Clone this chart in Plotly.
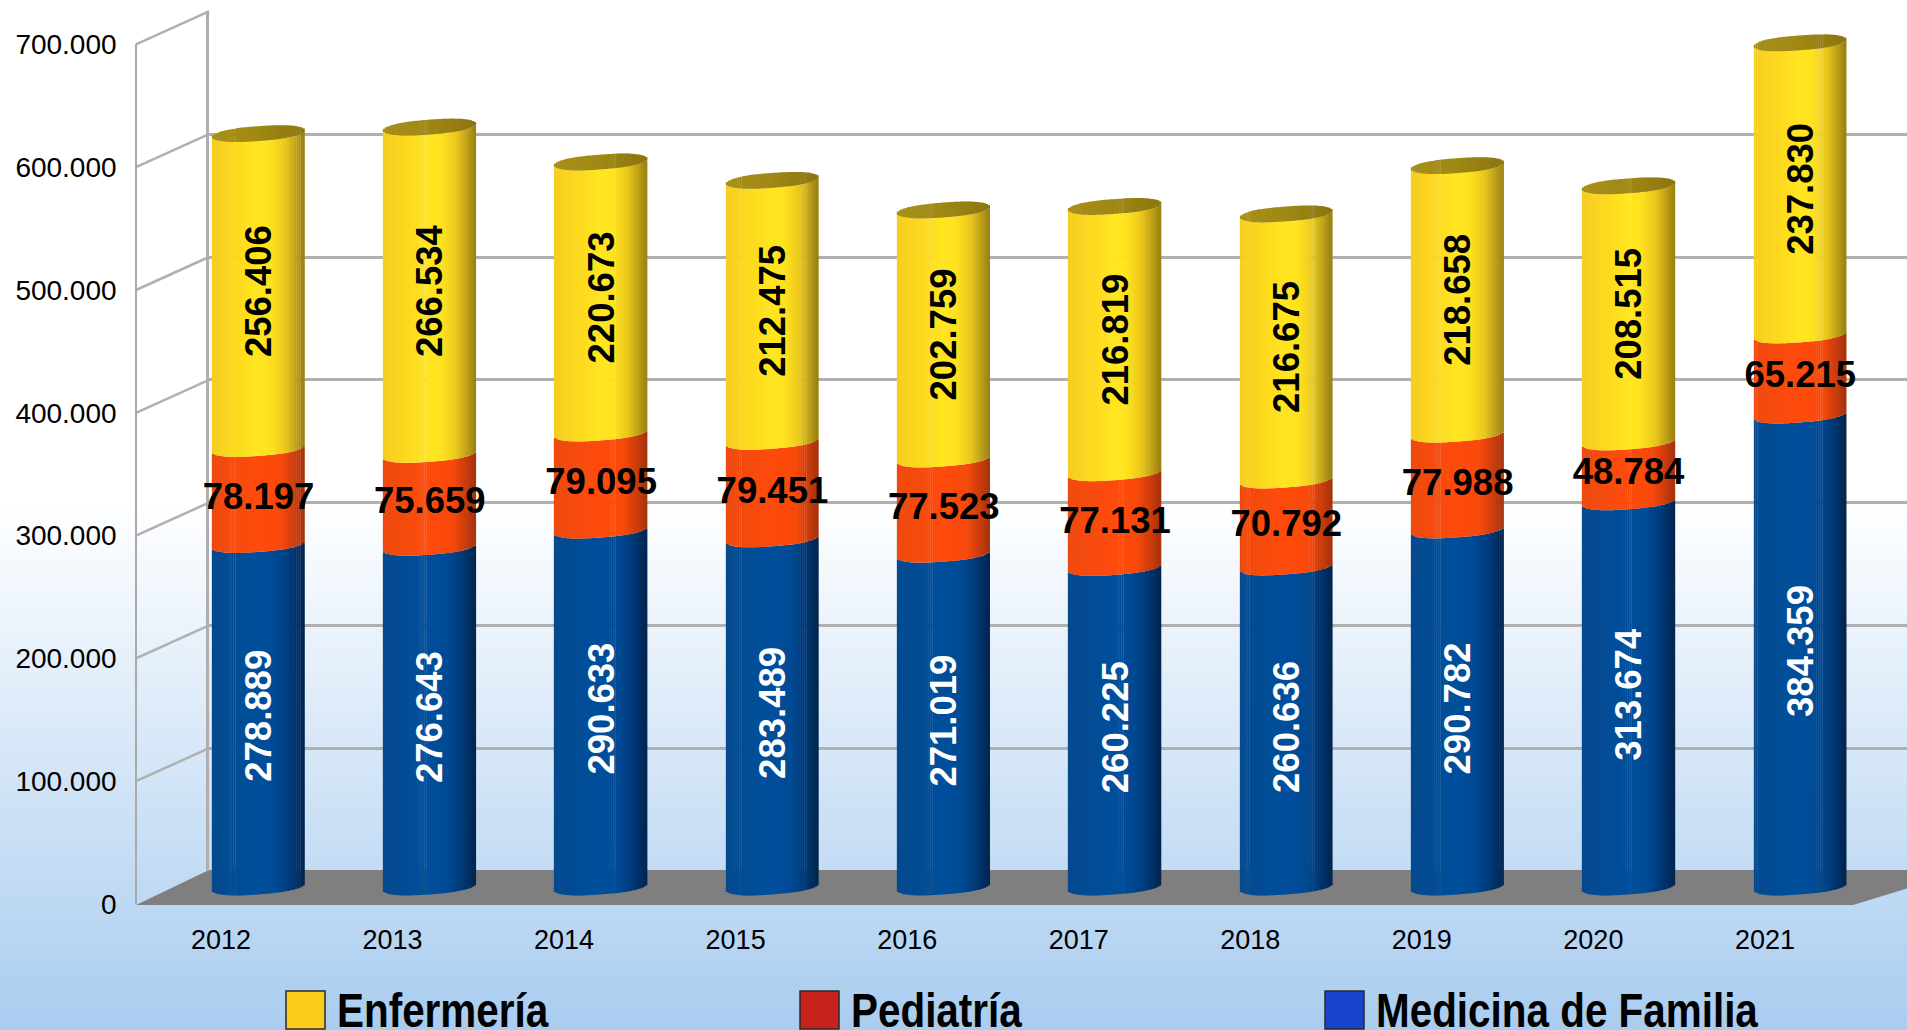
import plotly.graph_objects as go
import math

years = [2012, 2013, 2014, 2015, 2016, 2017, 2018, 2019, 2020, 2021]
enfermeria = [256406, 266534, 220673, 212475, 202759, 216819, 216675, 218658, 208515, 237830]
pediatria = [78197, 75659, 79095, 79451, 77523, 77131, 70792, 77988, 48784, 65215]
medicina = [278889, 276643, 290633, 283489, 271019, 260225, 260636, 290782, 313674, 384359]
y_ticks = [0, 100000, 200000, 300000, 400000, 500000, 600000, 700000]
y_tick_labels = ["0", "100.000", "200.000", "300.000", "400.000", "500.000", "600.000", "700.000"]
legend_names = ["Enfermería", "Pediatría", "Medicina de Familia"]

W, H = 1907, 1030
PX_PER_UNIT = 1.228 / 1000
BLACK = "#000000"
GRID = "#b0b0b0"
FONT = "Liberation Sans"


def px(x):
    return x / W


def py(y):
    return 1 - y / H


def mix(stops, u):
    for (a, ca), (b, cb) in zip(stops, stops[1:]):
        if u <= b:
            t = (u - a) / (b - a)
            return "rgb(%d,%d,%d)" % tuple(round(p + (q - p) * t) for p, q in zip(ca, cb))
    return "rgb(%d,%d,%d)" % stops[-1][1]


def hexc(s):
    return tuple(int(s[i:i + 2], 16) for i in (1, 3, 5))


def ramp(*pairs):
    return [(u, hexc(c)) for u, c in pairs]


YELLOW = ramp((-1, "#f6cd22"), (-.5, "#fdd81f"), (0, "#ffe620"), (.3, "#fee01f"), (.6, "#e8c61e"), (.85, "#b89a16"), (1, "#978011"))
RED = ramp((-1, "#ee4a10"), (0, "#ff4b0c"), (.5, "#f8490c"), (.8, "#c93c0c"), (1, "#a4320c"))
BLUE = ramp((-1, "#054a8e"), (0, "#004f9c"), (.4, "#004a94"), (.7, "#003a78"), (1, "#00244e"))
CAP = ramp((-1, "#a8901a"), (0, "#a08814"), (1, "#8c7510"))

fig = go.Figure()

# Empty-looking traces so that the back wall and the front edge axes get drawn
totals = [m + p + e for m, p, e in zip(medicina, pediatria, enfermeria)]
fig.add_scatter(x=[0.5], y=[0], xaxis="x2", yaxis="y2", mode="markers", marker=dict(opacity=0), hoverinfo="skip", showlegend=False)
fig.add_scatter(x=years, y=totals, xaxis="x3", yaxis="y3", mode="markers", marker=dict(opacity=0), hoverinfo="skip", showlegend=False)

# Cylinders: each is a bundle of narrow bars whose colour and base follow the curved surface
N = 47
BAR_W = 0.5405
TILT, BULGE = 3.4, 7.4
strip_w = BAR_W / N
cum_blue = [0] * len(years)
cum_red = medicina
cum_yellow = [m + p for m, p in zip(medicina, pediatria)]
tops = totals


def round_part(u):
    return math.sqrt(max(0, 1 - abs(u) ** 2.6))


for name, vals, bases, stops in [
    ("Medicina de Familia", medicina, cum_blue, BLUE),
    ("Pediatría", pediatria, cum_red, RED),
    ("Enfermería", enfermeria, cum_yellow, YELLOW),
]:
    for i in range(N):
        u = -1 + (2 * i + 1) / N
        d = (-TILT * u + BULGE * round_part(u)) / PX_PER_UNIT
        fig.add_bar(x=years, y=vals, base=[b - d for b in bases], xaxis="x4", yaxis="y4",
                    width=strip_w, offset=(i - N / 2) * strip_w,
                    marker=dict(color=mix(stops, u), line=dict(width=0)),
                    hoverinfo="skip", showlegend=False)

for i in range(N):
    u = -1 + (2 * i + 1) / N
    s = round_part(u)
    fig.add_bar(x=years, y=[2 * BULGE * s / PX_PER_UNIT] * len(years),
                base=[t + (TILT * u - BULGE * s) / PX_PER_UNIT for t in tops], xaxis="x4", yaxis="y4",
                width=strip_w, offset=(i - N / 2) * strip_w,
                marker=dict(color=mix(CAP, u), line=dict(width=0)),
                hoverinfo="skip", showlegend=False)


def fmt(v):
    return f"<b>{v:,}</b>".replace(",", ".")


for name, vals, bases, col, angle in [
    ("Medicina de Familia", medicina, cum_blue, "#ffffff", -90),
    ("Pediatría", pediatria, cum_red, BLACK, 0),
    ("Enfermería", enfermeria, cum_yellow, BLACK, -90),
]:
    fig.add_bar(x=years, y=vals, base=bases, xaxis="x4", yaxis="y4", name=name,
                width=BAR_W, offset=-BAR_W / 2,
                marker=dict(color="rgba(0,0,0,0)", line=dict(width=0)),
                text=[fmt(v) for v in vals], textposition="inside", insidetextanchor="middle",
                textangle=angle, constraintext="none", cliponaxis=False,
                textfont=dict(family=FONT, size=36.5, color=col), showlegend=False)

# Background gradient, floor, side-wall grid lines
shapes = []
STEP = 4
for y in range(500, H, STEP):
    t = (y - 500) / (H - 500)
    c = tuple(round(255 + (e - 255) * t) for e in (169, 204, 239))
    shapes.append(dict(type="rect", xref="paper", yref="paper", x0=0, x1=1, y0=py(y), y1=py(y + STEP + 1),
                       fillcolor="rgb(%d,%d,%d)" % c, line=dict(width=0), layer="below"))

FRONT_L, BACK_L = 136, 209
FRONT_0, BACK_0 = 904, 871
FRONT_R = 1853
for v in y_ticks[1:]:
    y0 = FRONT_0 - v * PX_PER_UNIT
    y1 = BACK_0 - v * PX_PER_UNIT
    shapes.append(dict(type="line", xref="paper", yref="paper", layer="below", x0=px(FRONT_L), x1=px(BACK_L),
                       y0=py(y0), y1=py(y1), line=dict(color=GRID, width=2.5)))
pts = [(FRONT_L, 905), (BACK_L, 870), (W + 60, 870), (FRONT_R, 905)]
shapes.append(dict(type="path", xref="paper", yref="paper", layer="below", fillcolor="#7f7f7f", line=dict(width=0),
                   path="M" + " L".join(f"{px(a):.5f},{py(b):.5f}" for a, b in pts) + " Z"))

# Hand-placed legend
annotations = []
for name, sx, tx, c in zip(legend_names, [286, 800, 1325], [335, 849, 1374], ["#facc1c", "#c8211c", "#1a43cc"]):
    shapes.append(dict(type="rect", xref="paper", yref="paper", layer="above", x0=px(sx), x1=px(sx + 39),
                       y0=py(991), y1=py(1029), fillcolor=c, line=dict(color="#2a2a2a", width=1.5)))
    annotations.append(dict(xref="paper", yref="paper", x=px(tx), y=py(1010), xanchor="left", yanchor="middle",
                            text=f"<b>{name}</b>", showarrow=False,
                            font=dict(family=FONT, size=49, color=BLACK)))

bar_x0 = 172.85
bar_x1 = bar_x0 + 171.3 * 10
bar_lo, bar_hi = -60000, 720000
bar_y_bot = 887 - bar_lo * PX_PER_UNIT
bar_y_top = 887 - bar_hi * PX_PER_UNIT
x_rng = [years[0] - .5, years[-1] + .5]
FRONT_SHIFT = 1.5 / 171.55
hidden = dict(showgrid=False, zeroline=False, showticklabels=False, ticks="", showline=False, automargin=False)

fig.update_layout(
    width=W, height=H, autosize=False, margin=dict(l=0, r=0, t=0, b=0, pad=0),
    paper_bgcolor="#ffffff", plot_bgcolor="rgba(0,0,0,0)", barmode="overlay", showlegend=False,
    font=dict(family=FONT, color=BLACK), shapes=shapes, annotations=annotations,
    # back wall
    xaxis2=dict(domain=[px(BACK_L), 1], range=[0, 1], anchor="y2", **hidden),
    yaxis2=dict(domain=[py(BACK_0), py(BACK_0 - 700000 * PX_PER_UNIT)], range=[0, 700000], anchor="x2",
                tickvals=y_ticks, showgrid=True, gridcolor=GRID, gridwidth=3, zeroline=False, automargin=False,
                showticklabels=False, ticks="", showline=True, linecolor="#aeaeae", linewidth=3),
    # front edge, carries the tick labels
    xaxis3=dict(domain=[px(136.7), px(1852.2)], range=[x_rng[0] + FRONT_SHIFT, x_rng[1] + FRONT_SHIFT], anchor="y3",
                tickvals=years, automargin=False,
                ticktext=[str(y) for y in years], showgrid=False, zeroline=False, showline=False,
                ticks="outside", ticklen=12, tickcolor="rgba(0,0,0,0)", tickfont=dict(family=FONT, size=27, color=BLACK)),
    yaxis3=dict(domain=[py(FRONT_0), py(FRONT_0 - 700000 * PX_PER_UNIT)], range=[0, 700000], anchor="x3", automargin=False,
                tickvals=y_ticks, ticktext=y_tick_labels, showgrid=False, zeroline=False, showline=True,
                linecolor="#aaaaaa", linewidth=2, ticks="outside", ticklen=12.5, tickcolor="rgba(0,0,0,0)",
                tickfont=dict(family=FONT, size=28, color=BLACK)),
    # cylinders, standing half-way between front edge and back wall
    xaxis4=dict(domain=[px(bar_x0), px(bar_x1)], range=x_rng, anchor="y4", **hidden),
    yaxis4=dict(domain=[py(bar_y_bot), py(bar_y_top)], range=[bar_lo, bar_hi], anchor="x4", **hidden),
)

# The legend lettering of the reference is condensed: squeeze the real text horizontally
POST = """
document.body.style.margin='0';document.body.style.overflow='hidden';
document.querySelectorAll('.annotation-text').forEach(function(t){
  var b=t.getBBox();
  var old=t.getAttribute('transform')||'';
  t.setAttribute('transform','translate('+b.x+',0) scale(0.825,1) translate('+(-b.x)+',0) '+old);
});
"""
fig.write_html("out.html", post_script=POST, config=dict(displayModeBar=False))
